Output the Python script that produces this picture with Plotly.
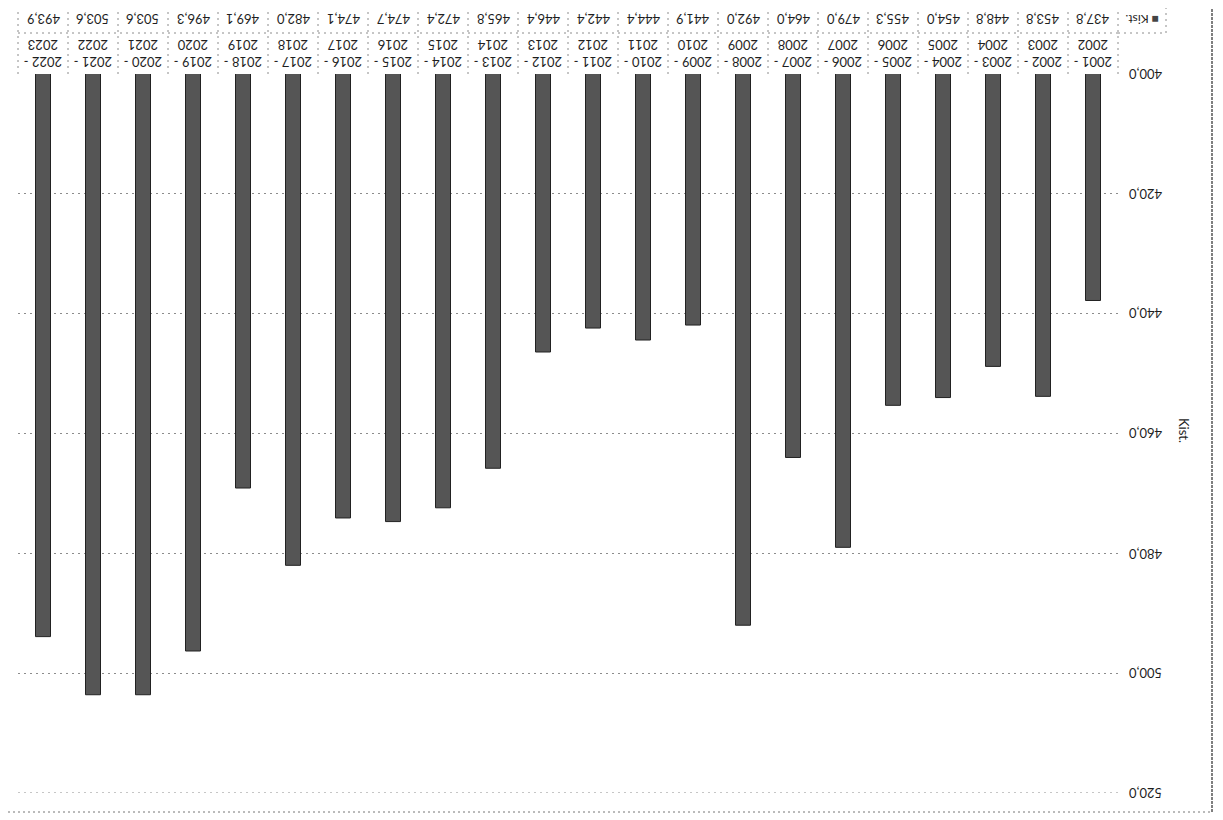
import plotly.graph_objects as go

# ---- data ----
periods = ["2001 -<br>2002", "2002 -<br>2003", "2003 -<br>2004", "2004 -<br>2005",
           "2005 -<br>2006", "2006 -<br>2007", "2007 -<br>2008", "2008 -<br>2009",
           "2009 -<br>2010", "2010 -<br>2011", "2011 -<br>2012", "2012 -<br>2013",
           "2013 -<br>2014", "2014 -<br>2015", "2015 -<br>2016", "2016 -<br>2017",
           "2017 -<br>2018", "2018 -<br>2019", "2019 -<br>2020", "2020 -<br>2021",
           "2021 -<br>2022", "2022 -<br>2023"]
kist = [437.8, 453.8, 448.8, 454.0, 455.3, 479.0, 464.0, 492.0, 441.9, 444.4, 442.4,
        446.4, 465.8, 472.4, 474.7, 474.1, 482.0, 469.1, 496.3, 503.6, 503.6, 493.9]
series_name = "Kist."
y_ticks = [400, 420, 440, 460, 480, 500, 520]

def fmt(v):
    return f"{v:.1f}".replace(".", ",")

n = len(periods)
FONT = "Lato"
TXT = "#1e1e1e"
GRID = "#8c8c8c"
DOT = "2px,4px"

OFF = 8  # page body margin in the browser
W, H = 1223 - OFF, 820 - OFF
ML = 18 - OFF
MR = W - (1118 - OFF)
MT = 74 - OFF
MB = H - (793 - OFF)
PW, PH = W - ML - MR, H - MT - MB

def px_x(p):
    return (p - OFF - ML) / PW

def px_y(p):
    return (H - MB - (p - OFF)) / PH

fig = go.Figure()
fig.add_trace(go.Bar(
    x=list(range(n)), y=kist, name=series_name,
    width=0.3,
    marker=dict(color="#555555", line=dict(color="#222222", width=1)),
    showlegend=False,
))

# data table cells (chart is rotated 180 degrees)
ann = []
shapes = []
y_row_mid = px_y(33)
y_top = px_y(5)
x_leg = px_x(1166)
for i in range(n):
    xc = 1 - (i + 0.5) / n
    ann.append(dict(x=xc, y=(1.0 + y_row_mid) / 2, xref="paper", yref="paper",
                    xanchor="center", yanchor="middle",
                    text=periods[i], showarrow=False, textangle=180,
                    font=dict(family=FONT, size=13, color=TXT)))
    ann.append(dict(x=xc, y=(y_row_mid + y_top) / 2, xref="paper", yref="paper",
                    xanchor="center", yanchor="middle",
                    text=fmt(kist[i]), showarrow=False, textangle=180,
                    font=dict(family=FONT, size=13, color=TXT)))
for k in range(n + 1):
    xb = 1 - k / n
    shapes.append(dict(type="line", xref="paper", yref="paper", x0=xb, x1=xb,
                       y0=1.0, y1=y_top, line=dict(color=GRID, width=1, dash=DOT)))
shapes.append(dict(type="line", xref="paper", yref="paper", x0=0, x1=1,
                   y0=y_row_mid, y1=y_row_mid, line=dict(color=GRID, width=1, dash=DOT)))
shapes.append(dict(type="line", xref="paper", yref="paper", x0=0, x1=x_leg,
                   y0=y_top, y1=y_top, line=dict(color=GRID, width=1, dash=DOT)))
shapes.append(dict(type="line", xref="paper", yref="paper", x0=1, x1=x_leg,
                   y0=y_row_mid, y1=y_row_mid, line=dict(color=GRID, width=1, dash=DOT)))
shapes.append(dict(type="line", xref="paper", yref="paper", x0=x_leg, x1=x_leg,
                   y0=y_row_mid, y1=y_top, line=dict(color=GRID, width=1, dash=DOT)))
# gridline at the axis end
shapes.append(dict(type="line", xref="paper", yref="y", x0=0, x1=1,
                   y0=y_ticks[-1], y1=y_ticks[-1], line=dict(color=GRID, width=1, dash=DOT)))
# y tick labels (upside down)
for v in y_ticks:
    ann.append(dict(x=px_x(1145), y=v, xref="paper", yref="y", text=fmt(v),
                    xanchor="center", yanchor="middle", showarrow=False, textangle=180,
                    font=dict(family=FONT, size=13, color=TXT)))
# legend key cell
ann.append(dict(x=(1 + x_leg) / 2, y=(y_row_mid + y_top) / 2, xref="paper", yref="paper",
                xanchor="center", yanchor="middle",
                text="<span style='color:#444'>■</span> " + series_name, showarrow=False,
                textangle=180, font=dict(family=FONT, size=12, color=TXT)))
# axis title
ann.append(dict(x=px_x(1184), y=px_y(430), xref="paper", yref="paper", text=series_name,
                xanchor="center", yanchor="middle",
                showarrow=False, textangle=90, font=dict(family=FONT, size=13, color=TXT)))
# outer chart-area border (right and bottom)
shapes.append(dict(type="line", xref="paper", yref="paper", x0=px_x(1212), x1=px_x(1212),
                   y0=px_y(812), y1=px_y(8), line=dict(color="#555555", width=1.5, dash="3px,1px")))
shapes.append(dict(type="line", xref="paper", yref="paper", x0=px_x(8), x1=px_x(1212),
                   y0=px_y(812), y1=px_y(812), line=dict(color="#777777", width=1, dash="2px,3px")))

fig.update_layout(
    width=W, height=H,
    margin=dict(l=ML, r=MR, t=MT, b=MB),
    paper_bgcolor="white", plot_bgcolor="white",
    separators=", ",
    annotations=ann, shapes=shapes,
    font=dict(family=FONT, color=TXT),
)
fig.update_xaxes(range=[n - 0.5, -0.5], showticklabels=False, showgrid=False,
                 zeroline=False, showline=False, ticks="")
fig.update_yaxes(range=[520, 400], side="right", tickvals=y_ticks,
                 showticklabels=False,
                 showgrid=True, gridcolor=GRID, griddash=DOT, gridwidth=1,
                 zeroline=False, showline=False, ticks="")

fig.write_html("out.html")
